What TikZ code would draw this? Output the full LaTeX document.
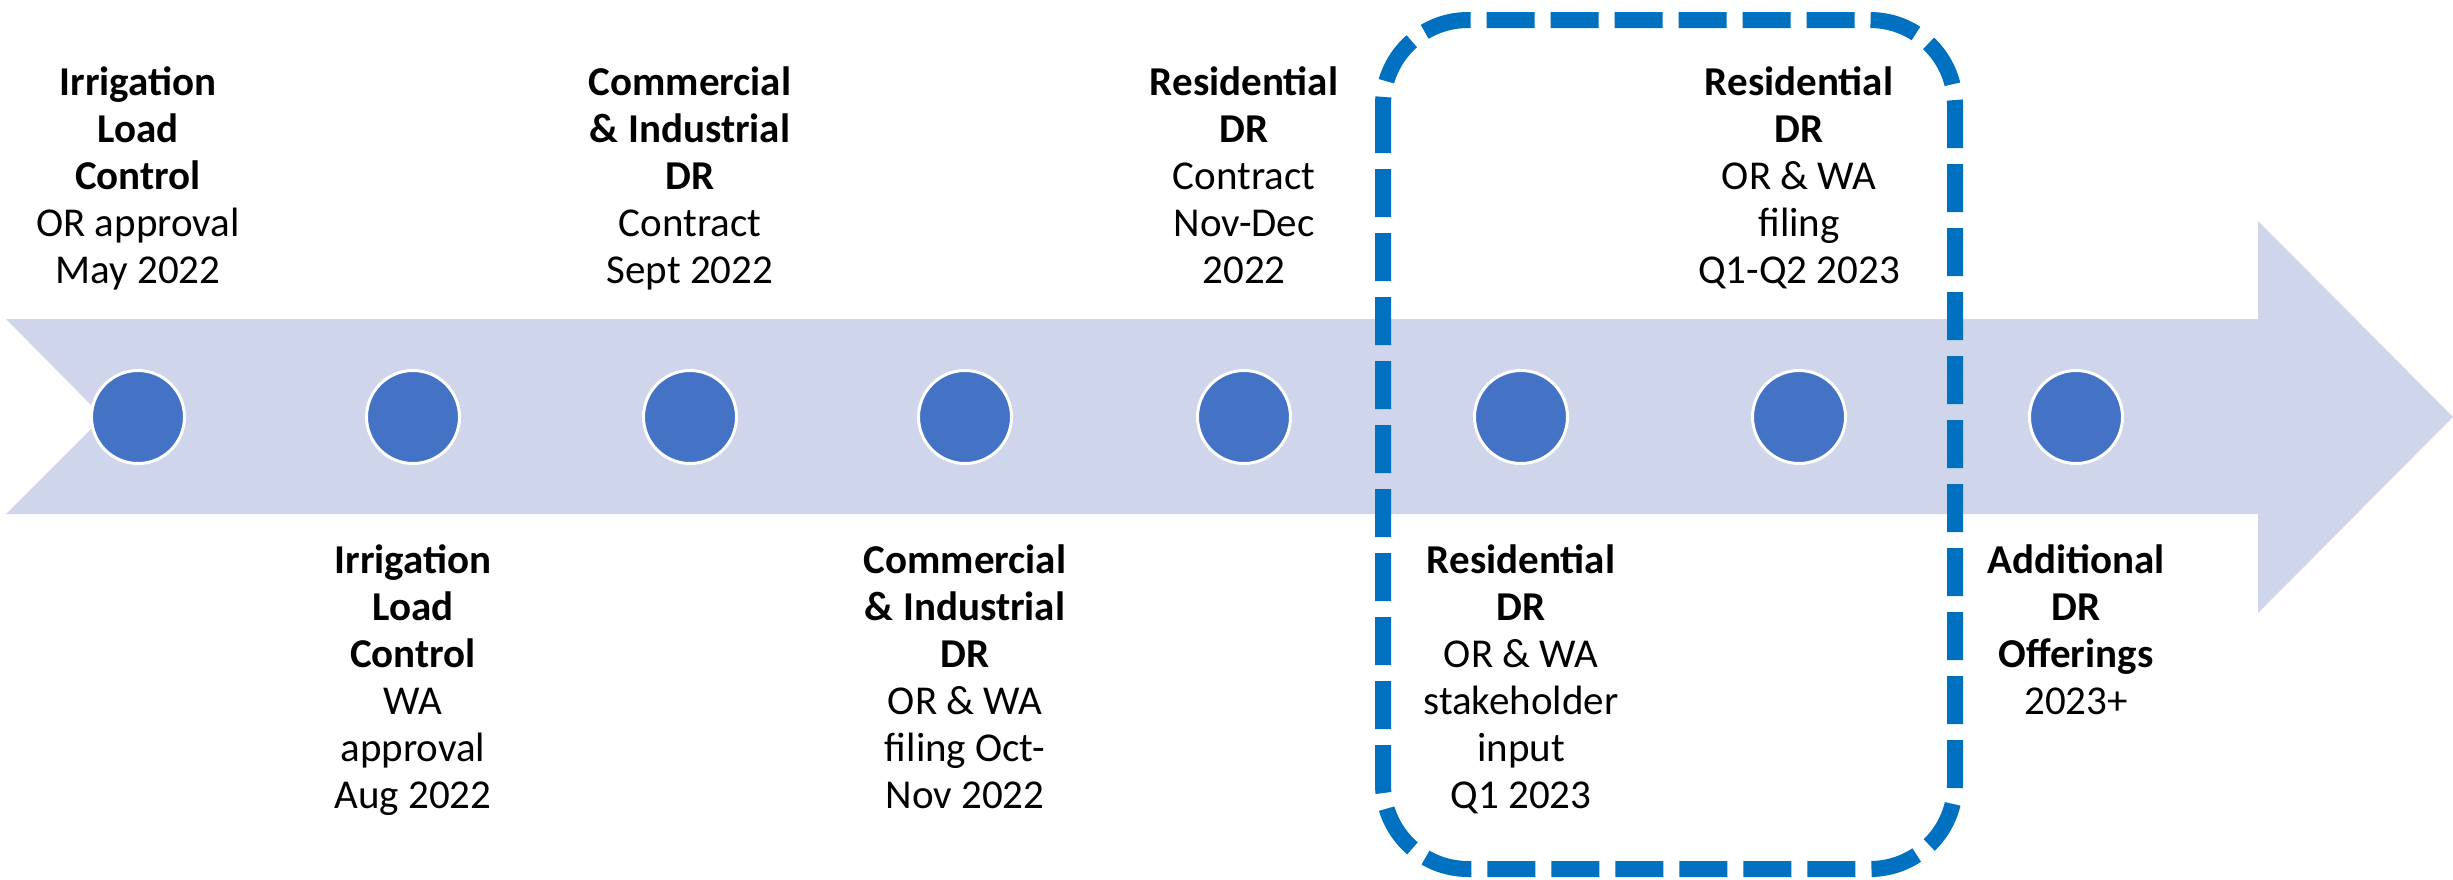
\documentclass[tikz,border=0pt]{standalone}
\usepackage{fontspec}
\setmainfont{Carlito}
\definecolor{bandcol}{HTML}{CFD5EA}
\definecolor{dotcol}{HTML}{4472C4}
\definecolor{boxcol}{HTML}{0070C0}
\begin{document}
\begin{tikzpicture}[x=1pt,y=-1pt,
  dot/.style={circle, fill=dotcol, draw=white, line width=3pt, minimum size=93pt, inner sep=0pt},
  lbl/.style={align=center, inner sep=0pt, font=\fontsize{41}{47}\selectfont, text=black, anchor=north},
  hl/.style={draw=boxcol, line width=16pt, dash pattern=on 48pt off 16pt, rounded corners=85pt}]
\useasboundingbox (0,0) rectangle (2453,879);
% timeline arrow band
\fill[bandcol] (6,319) -- (2258,319) -- (2258,221) -- (2453,417) -- (2258,613) -- (2258,514) -- (6,514) -- (103,417) -- cycle;
% milestone dots
\foreach \i/\x in {1/138,2/413,3/690,4/965,5/1244,6/1521,7/1799,8/2076}
  \node[dot] (c\i) at (\x,417) {};
% top labels
\node[lbl] (t1) at (138,62) {\strut\textbf{Irrigation}\\\textbf{Load}\\\textbf{Control}\\OR approval\\May 2022};
\node[lbl] (t3) at (690,62) {\strut\textbf{Commercial}\\\textbf{\& Industrial}\\\textbf{DR}\\Contract\\Sept 2022};
\node[lbl] (t5) at (1244,62) {\strut\textbf{Residential}\\\textbf{DR}\\Contract\\Nov-Dec\\2022};
\node[lbl] (t7) at (1799,62) {\strut\textbf{Residential}\\\textbf{DR}\\OR \& WA\\filing\\Q1-Q2 2023};
% bottom labels
\node[lbl] (t2) at (413,540) {\strut\textbf{Irrigation}\\\textbf{Load}\\\textbf{Control}\\WA\\approval\\Aug 2022};
\node[lbl] (t4) at (965,540) {\strut\textbf{Commercial}\\\textbf{\& Industrial}\\\textbf{DR}\\OR \& WA\\filing Oct-\\Nov 2022};
\node[lbl] (t6) at (1521,540) {\strut\textbf{Residential}\\\textbf{DR}\\OR \& WA\\stakeholder\\input\\Q1 2023};
\node[lbl] (t8) at (2076,540) {\strut\textbf{Additional}\\\textbf{DR}\\\textbf{Offerings}\\2023+};
% highlight box
\draw[hl] (1383,20) rectangle (1955,869);
\end{tikzpicture}
\end{document}
